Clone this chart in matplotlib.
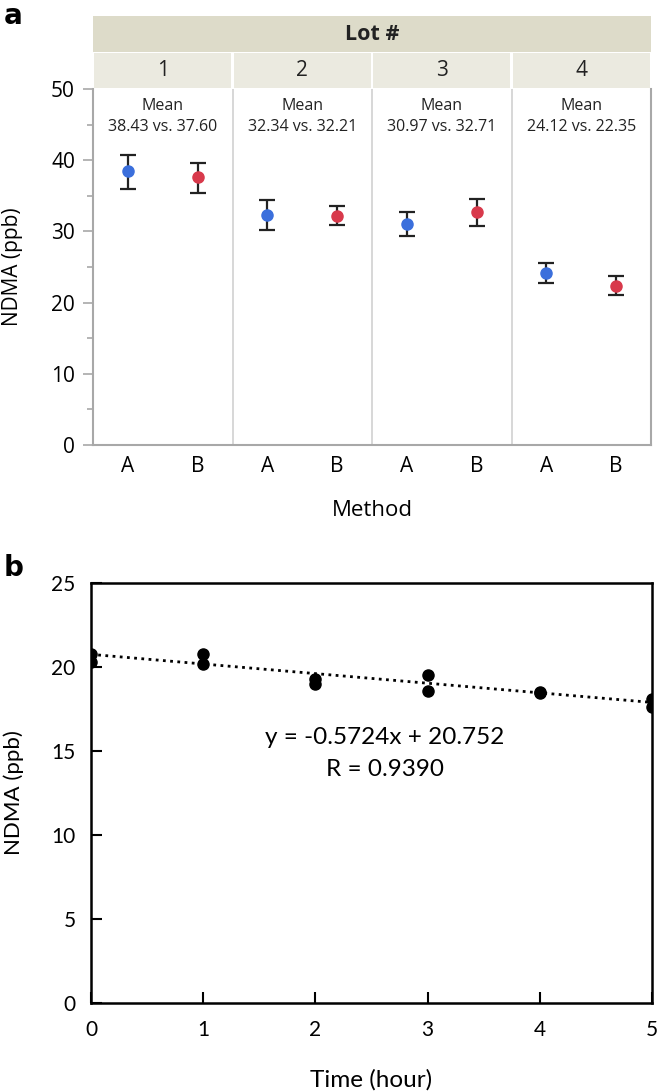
import numpy as np
import matplotlib
matplotlib.use("Agg")
import matplotlib.pyplot as plt
from matplotlib.patches import Rectangle
from matplotlib.ticker import MultipleLocator

# panel a data
lots = ["1", "2", "3", "4"]
methods = ["A", "B"]
means_a = [38.43, 32.34, 30.97, 24.12]
means_b = [37.60, 32.21, 32.71, 22.35]
lo_a = [36.0, 30.2, 29.3, 22.8]
hi_a = [40.8, 34.4, 32.7, 25.5]
lo_b = [35.4, 30.9, 30.8, 21.0]
hi_b = [39.6, 33.5, 34.6, 23.8]

# panel b data
t_hours = [0, 0, 1, 1, 2, 2, 3, 3, 4, 4, 5, 5]
ndma_b = [20.8, 20.3, 20.8, 20.2, 19.3, 19.0, 19.5, 18.6, 18.5, 18.45, 18.1, 17.6]
slope = -0.5724
intercept = 20.752
r_val = 0.9390

W, H = 661, 1092
fig = plt.figure(figsize=(W / 100, H / 100), dpi=100)

def fx(px):
    return px / W

def fy(py):
    return 1 - py / H

top_font = "Open Sans"
bot_font = "Lato"
blue = "#3b6fdc"
red = "#d8394b"
gray = "#a8a8a8"

# ---- panel a ----
axa = fig.add_axes([fx(93), fy(445), fx(651) - fx(93), fy(89) - fy(445)])
axa.set_xlim(0, 8)
axa.set_ylim(0, 50)
for k in range(4):
    xa = 2 * k + 0.5
    xb = 2 * k + 1.5
    axa.errorbar(xa, means_a[k], yerr=[[means_a[k] - lo_a[k]], [hi_a[k] - means_a[k]]],
                 fmt="o", color=blue, ecolor="#222222", elinewidth=1.6, capsize=6,
                 capthick=1.6, markersize=8, zorder=3)
    axa.errorbar(xb, means_b[k], yerr=[[means_b[k] - lo_b[k]], [hi_b[k] - means_b[k]]],
                 fmt="o", color=red, ecolor="#222222", elinewidth=1.6, capsize=6,
                 capthick=1.6, markersize=8, zorder=3)
    axa.text(2 * k + 1, 47.6, "Mean", ha="center", va="center", fontsize=11.5,
             family=top_font, color="#222222")
    axa.text(2 * k + 1, 44.7, "%.2f vs. %.2f" % (means_a[k], means_b[k]),
             ha="center", va="center", fontsize=11.5, family=top_font, color="#222222")
    if k > 0:
        axa.axvline(2 * k, color="#d4d4d4", lw=1.3, zorder=1)

axa.set_xticks([0.5 + i for i in range(8)])
axa.set_xticklabels(methods * 4, family=top_font, fontsize=15)
axa.tick_params(axis="x", length=0, pad=8)
axa.yaxis.set_major_locator(MultipleLocator(10))
axa.yaxis.set_minor_locator(MultipleLocator(5))
axa.tick_params(axis="y", which="major", length=7, color=gray, width=1.2, labelsize=15, pad=6)
axa.tick_params(axis="y", which="minor", length=4, color=gray, width=1.2)
for lab in axa.get_yticklabels():
    lab.set_family(top_font)
for s in ["left", "bottom", "right"]:
    axa.spines[s].set_color(gray)
    axa.spines[s].set_linewidth(1.5)
axa.spines["top"].set_visible(False)
axa.set_ylabel("NDMA (ppb)", family=top_font, fontsize=15)
axa.yaxis.set_label_coords(-0.125, 0.5)
axa.set_xlabel("Method", family=top_font, fontsize=16)
axa.xaxis.set_label_coords(0.5, -0.155)

# header
axh = fig.add_axes([fx(93), fy(88), fx(651) - fx(93), fy(16) - fy(88)])
axh.set_xlim(0, 8)
axh.set_ylim(0, 2)
axh.axis("off")
axh.add_patch(Rectangle((0, 1), 8, 1, facecolor="#dddbc9", edgecolor="none"))
for k in range(4):
    axh.add_patch(Rectangle((2 * k + 0.02, 0), 1.96, 0.98, facecolor="#ebeae0",
                            edgecolor="none"))
    axh.text(2 * k + 1, 0.48, lots[k], ha="center", va="center", fontsize=15,
             family=top_font, color="#222222")
axh.text(4, 1.5, "Lot #", ha="center", va="center", fontsize=15.5, weight="bold",
         family=top_font, color="#222222")

fig.text(fx(4), fy(16), "a", fontsize=20, weight="bold", family="DejaVu Sans",
         ha="left", va="center")

# ---- panel b ----
axb = fig.add_axes([fx(91), fy(1003), fx(652) - fx(91), fy(583) - fy(1003)])
xs = np.array([0, 5])
axb.plot(xs, slope * xs + intercept, color="black", linestyle=(0, (1, 1.6)), lw=2)
axb.plot(t_hours, ndma_b, "o", color="black", markersize=8, zorder=3)
axb.set_xlim(0, 5)
axb.set_ylim(0, 25)
axb.set_xticks(range(6))
axb.set_yticks(range(0, 26, 5))
axb.tick_params(direction="in", length=8, width=1.5, labelsize=15)
axb.tick_params(axis="x", pad=12)
axb.tick_params(axis="y", pad=11)
for lab in axb.get_xticklabels() + axb.get_yticklabels():
    lab.set_family(bot_font)
for s in axb.spines.values():
    s.set_linewidth(1.8)
axb.text(2.62, 15.8, "y = %.4fx + %.3f" % (slope, intercept), ha="center", va="center",
         fontsize=17.5, family=bot_font)
axb.text(2.62, 13.9, "R = %.4f" % r_val, ha="center", va="center", fontsize=17.5,
         family=bot_font)
axb.set_ylabel("NDMA (ppb)", family=bot_font, fontsize=16)
axb.yaxis.set_label_coords(-0.12, 0.5)
axb.set_xlabel("Time (hour)", family=bot_font, fontsize=17.5)
axb.xaxis.set_label_coords(0.5, -0.158)

fig.text(fx(4), fy(568), "b", fontsize=20, weight="bold", family="DejaVu Sans",
         ha="left", va="center")

fig.savefig("out.png", dpi=100)
